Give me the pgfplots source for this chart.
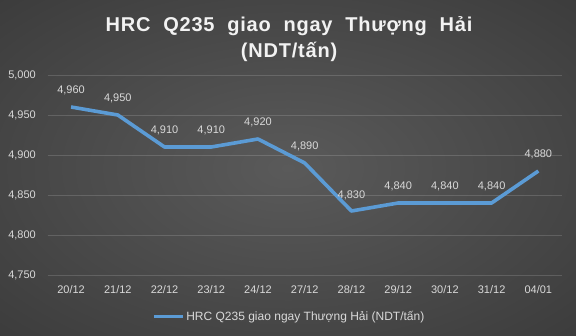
\documentclass[border=0pt]{standalone}
\usepackage{fontspec}
\setmainfont{Liberation Sans}
\newfontfamily\titlefont[LetterSpace=4,WordSpace=2]{Liberation Sans}
\usepackage{pgfplots}
\pgfplotsset{compat=1.18}
\definecolor{bgin}{HTML}{5A5A5A}
\definecolor{bgout}{HTML}{303030}
\definecolor{bgcorner}{HTML}{242424}
\definecolor{linecol}{HTML}{5B9BD5}
\definecolor{lab}{HTML}{D9D9D9}
\definecolor{titlecol}{HTML}{F2F2F2}
\pgfdeclareradialshading{bgshade}{\pgfpoint{0bp}{0bp}}{color(0bp)=(bgin); color(50bp)=(bgout); color(71bp)=(bgcorner)}
\begin{document}
\begin{tikzpicture}
\useasboundingbox (0,0) rectangle (576bp,336bp);
\shade[shading=bgshade] (0,0) rectangle (576bp,336bp);
\node[anchor=base, text=titlecol, font=\titlefont\bfseries\fontsize{20bp}{24bp}\selectfont, inner sep=0pt] at (289bp,304.5bp) {HRC Q235 giao ngay Thượng Hải};
\node[anchor=base, text=titlecol, font=\titlefont\bfseries\fontsize{20bp}{24bp}\selectfont, inner sep=0pt] at (289bp,278bp) {(NDT/tấn)};
\begin{axis}[
  at={(47.7bp,61bp)}, anchor=south west,
  scale only axis, width=514bp, height=200bp,
  xmin=-0.5, xmax=10.5, ymin=4750, ymax=5000,
  ytick={4750,4800,4850,4900,4950,5000},
  xtick={0,...,10},
  xticklabels={20/12,21/12,22/12,23/12,24/12,27/12,28/12,29/12,30/12,31/12,04/01},
  axis line style={draw=none},
  major tick length=0pt,
  ymajorgrids,
  grid style={white, opacity=0.15, line width=0.75bp},
  /pgf/number format/assume math mode=true,
  tick label style={text=lab, font=\fontsize{11bp}{13bp}\selectfont},
  yticklabel style={anchor=east, inner sep=0pt, xshift=-11.7bp},
  xticklabel style={anchor=base, inner sep=0pt, yshift=-18.3bp},
  clip=false,
  legend style={at={(0.4695,-0.2085)}, anchor=center, draw=none, fill=none,
    text=lab, font=\fontsize{12bp}{14bp}\selectfont, inner sep=0pt, nodes={inner sep=1.3bp}},
  legend image code/.code={\draw[linecol, line width=3.6bp] (0bp,0bp) -- (29bp,0bp);},
]
\addplot[color=linecol, line width=3.6bp, line join=round,
  nodes near coords,
  nodes near coords style={font=\fontsize{11bp}{13bp}\selectfont, text=lab, anchor=base, inner sep=0pt, yshift=13bp}]
  coordinates {(0,4960) (1,4950) (2,4910) (3,4910) (4,4920) (5,4890) (6,4830) (7,4840) (8,4840) (9,4840) (10,4880)};
\addlegendentry{HRC Q235 giao ngay Thượng Hải (NDT/tấn)}
\end{axis}
\end{tikzpicture}
\end{document}
